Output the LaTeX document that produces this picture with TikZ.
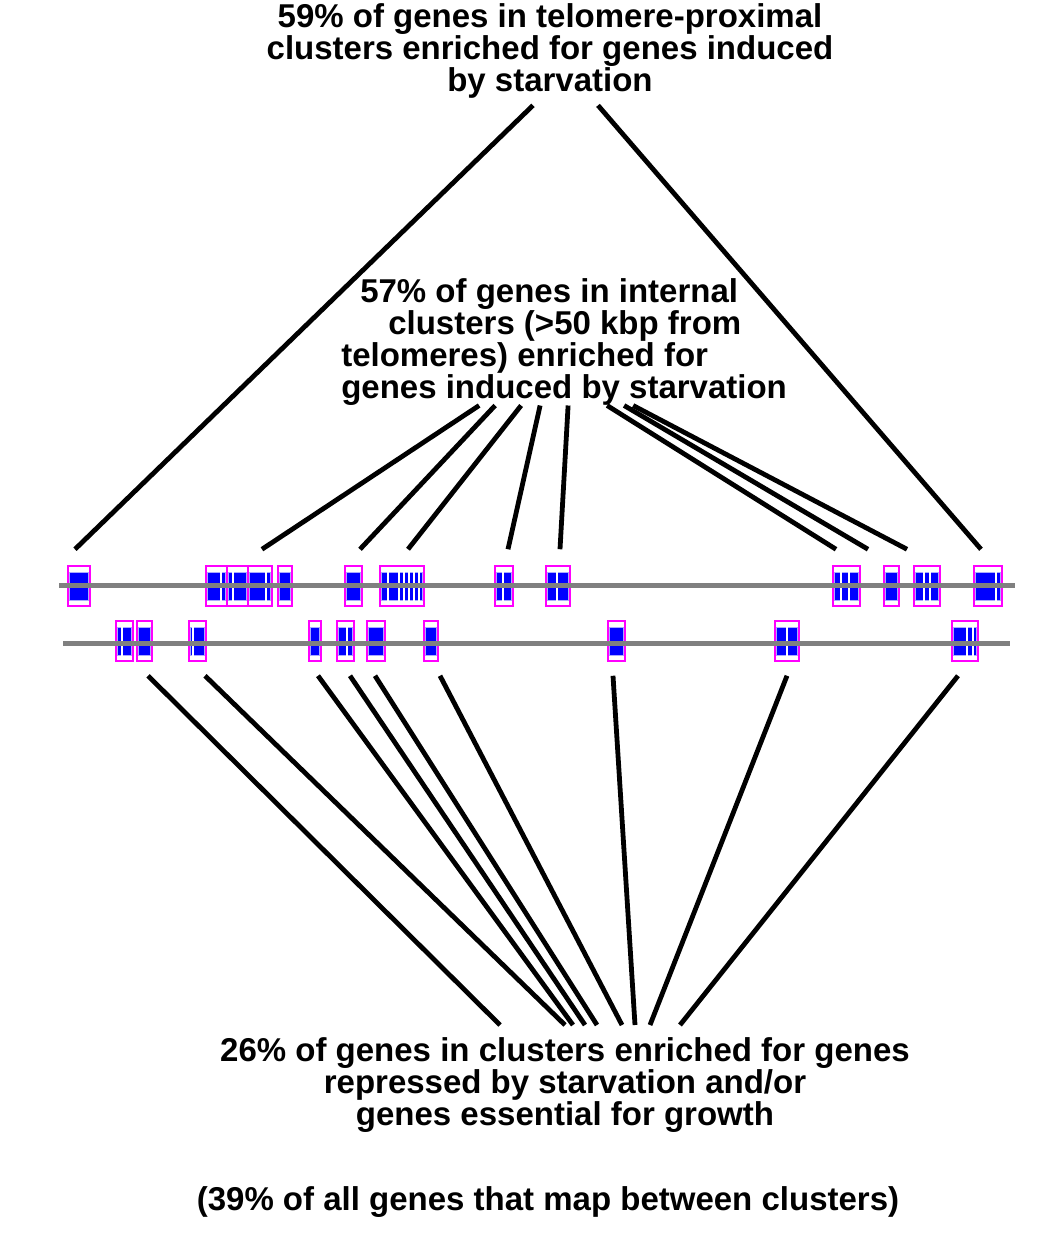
\documentclass[tikz,border=0pt]{standalone}
\usepackage{fontspec}
\setmainfont{Liberation Sans}
\usetikzlibrary{calc}

\definecolor{geneblue}{RGB}{0,0,255}
\definecolor{bandblue}{RGB}{170,170,255}
\definecolor{boxpink}{RGB}{255,0,255}
\definecolor{chromgray}{RGB}{128,128,128}

\begin{document}
\begin{tikzpicture}[x=1pt,y=-1pt
  ,link/.style={line width=4.8pt}
  ,semithick]
  \tikzstyle{txt}=[inner sep=0pt,font=\fontsize{33}{32}\selectfont\bfseries]
  \tikzstyle{gene}=[draw=boxpink,line width=1.5pt,fill=white,inner sep=0pt,minimum height=40pt
  ,path picture={\fill[geneblue,draw=bandblue,line width=1pt]
      ([xshift=1.5pt,yshift=6pt]path picture bounding box.south west) rectangle
      ([xshift=-1.5pt,yshift=-6pt]path picture bounding box.north east);}]
  \tikzstyle{cut}=[white,line width=1.5pt]
  \tikzstyle{chrom}=[chromgray,line width=5pt]

  \useasboundingbox[fill=white] (0,0) rectangle (1050,1254);

  % clusters, upper chromosome
  \foreach \n/\c/\w in {t1/79/22,t2/216.5/21,t3/237.5/21,t4/260/24,t5/285/14,
    t6/353.5/17,t7/402/44,t8/504/18,t9/558/24,t10/846.5/27,t11/891.5/15,
    t12/927/26,t13/988/28}
    \node[gene,minimum width=\w pt] (\n) at (\c,586) {};
  \foreach \x in {221,233,266,388,399,404,409,414,419,503,557,841,849,924,930,996}
    \draw[cut] (\x,568) -- (\x,604);
  \draw[chrom] (59,585) -- (1015,585);

  % clusters, lower chromosome
  \foreach \n/\c/\w in {b1/124.5/17,b2/144.5/15,b3/197.5/17,b4/315/12,
    b5/345.5/17,b6/376/18,b7/431/14,b8/616.5/17,b9/787/24,b10/965/26}
    \node[gene,minimum width=\w pt] (\n) at (\c,641) {};
  \foreach \x in {122,193,347,787,967,973}
    \draw[cut] (\x,623) -- (\x,659);
  \draw[chrom] (63,643.5) -- (1010,643.5);

  % labels
  \node[txt,align=center,anchor=north] (telo) at (550,3)
    {59\% of genes in telomere-proximal\\clusters enriched for genes induced\\by starvation};
  \node[txt,align=left,anchor=north west] (inner) at (341,278)
    {\hspace*{19pt}57\% of genes in internal\\\hspace*{47pt}clusters (>50 kbp from\\telomeres) enriched for\\genes induced by starvation};
  \node[txt,align=center,anchor=north] (rep) at (565,1037)
    {26\% of genes in clusters enriched for genes\\repressed by starvation and/or\\genes essential for growth};
  \node[txt,anchor=north] (note) at (548,1186)
    {(39\% of all genes that map between clusters)};

  \draw[link] ($(telo.south)+(-17,7)$) -- ($(t1.north)+(-4,-16)$);
  \draw[link] ($(telo.south)+(48,7)$) -- ($(t13.north)+(-7,-16)$);

  \foreach \a/\n/\b in {-85/t4/2,-69/t6/6.5,-43/t7/6,-24/t8/4,4/t9/2,
    43/t10/-10.5,60/t11/-23.5,69/t12/-20}
    \draw[link] ($(inner.south)+(\a,0)$) -- ($(\n.north)+(\b,-16)$);

  \foreach \n/\b/\a in {b2/3.5/-65,b3/7.5/0,b4/3/8,b5/4.5/20,b6/-1/32,
    b7/9/57,b8/-3.5/70,b9/0/85,b10/-7/115}
    \draw[link] ($(\n.south)+(\b,14)$) -- ($(rep.north)+(\a,-12)$);
\end{tikzpicture}
\end{document}
